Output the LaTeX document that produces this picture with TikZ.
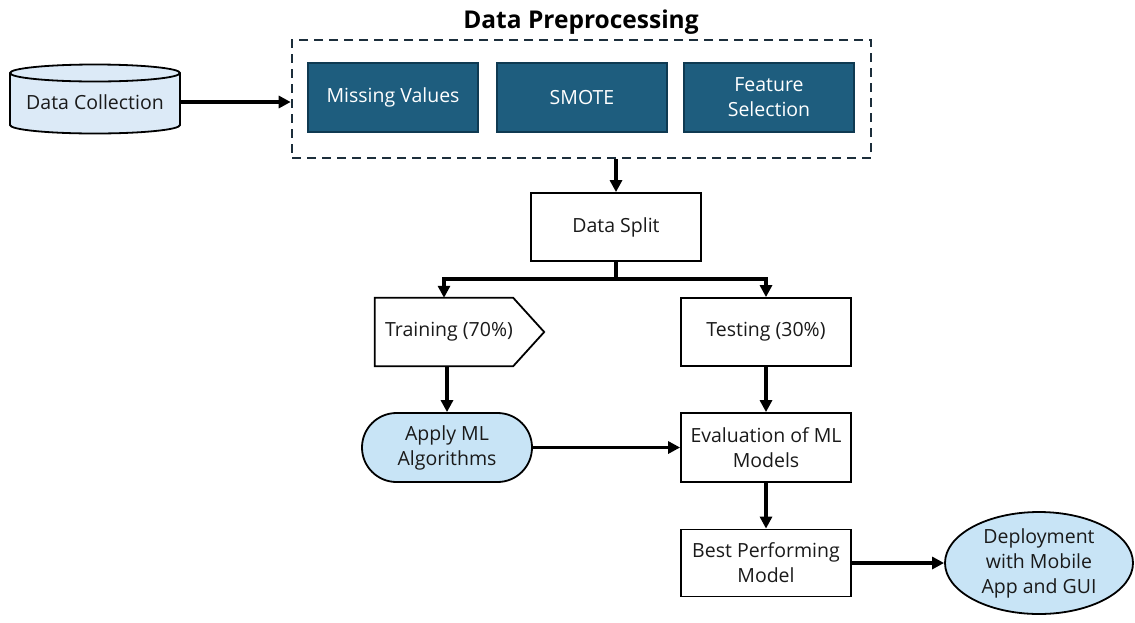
\documentclass[tikz,border=0pt]{standalone}
\usepackage{fontspec}
\setmainfont{Open Sans}
\usetikzlibrary{arrows.meta,shapes.geometric,shapes.misc,calc,backgrounds}

\definecolor{inkc}{HTML}{1A1A1A}
\definecolor{prepfill}{HTML}{1E5D7E}
\definecolor{prepedge}{HTML}{0F3A52}
\definecolor{dashc}{HTML}{1C2E3B}
\definecolor{softblue}{HTML}{C8E4F6}
\definecolor{cylfill}{HTML}{DCEAF7}

\begin{document}
\begin{tikzpicture}[x=1pt,y=-1pt,
  txt/.style={font=\fontsize{19.5}{25}\selectfont, text=inkc, align=center, inner sep=0pt},
  plainbox/.style={txt, draw=black, line width=1.8pt, fill=white,
    minimum width=170pt, minimum height=68pt},
  prepbox/.style={txt, text=white, fill=prepfill, draw=prepedge, line width=1.2pt,
    minimum width=170pt, minimum height=69pt},
  softshape/.style={txt, draw=black, line width=1.8pt, fill=softblue},
  outline/.style={draw=black, line width=1.8pt, line join=miter},
  flow/.style={line width=3.3pt, line join=miter, -{Triangle[length=12pt,width=12pt]}}
]
\useasboundingbox (0,0) rectangle (1135,622);

% data source cylinder
\draw[outline, fill=cylfill] (10,73) -- (10,125)
  arc[start angle=180, end angle=360, x radius=85pt, y radius=8.5pt]
  -- (180,73)
  arc[start angle=0, end angle=180, x radius=85pt, y radius=8.5pt] -- cycle;
\draw[outline] (10,73) arc[start angle=180, end angle=360, x radius=85pt, y radius=8.5pt];
\node[txt, minimum width=170pt, minimum height=70pt] (dc) at (95,102) {Data Collection};

% preprocessing group
\node[font=\fontsize{24.5}{28}\bfseries\selectfont, text=black] (title) at (581,22) {Data Preprocessing};
\node[draw=dashc, line width=2.6pt, dash pattern=on 9pt off 6pt,
  minimum width=579pt, minimum height=118pt] (prep) at (581.5,99) {};
\node[prepbox] (mv) at (393,97.5) {Missing Values};
\node[prepbox] (sm) at (582,97.5) {SMOTE};
\node[prepbox] (fs) at (769,97.5) {Feature\\Selection};

% split
\node[plainbox] (ds) at (616,227) {Data Split};
\coordinate (sp) at (616,279);

% training branch: pentagon outline drawn behind its text
\node[txt, minimum width=138pt, minimum height=68pt] (tr) at (444,332) {\hspace*{10pt}Training (70\%)};
\begin{pgfonlayer}{background}
\draw[outline, fill=white] (tr.north west) -- (tr.north east) -- ($(tr.east)+(31,0)$)
  -- (tr.south east) -- (tr.south west) -- cycle;
\end{pgfonlayer}
\node[softshape, rounded rectangle, minimum width=170pt, minimum height=69pt] (am) at (447,447.5) {Apply ML\\Algorithms};

% testing branch
\node[plainbox] (te) at (766,332) {Testing (30\%)};
\node[plainbox, minimum height=69pt] (ev) at (766,447.5) {Evaluation of ML\\Models};
\node[plainbox, minimum height=67pt] (bp) at (766,563) {Best Performing\\Model};
\node[softshape, ellipse, minimum width=188pt, minimum height=102pt] (dep) at (1039,563) {Deployment\\with Mobile\\App and GUI};

% connectors
\draw[flow] (dc.east) -- (dc.east -| prep.west);
\draw[flow] (ds.north |- prep.south) -- (ds.north);
\draw[flow] (ds.south) -- (sp) -| (tr.north);
\draw[flow] (sp) -| (te.north);
\draw[flow] (am.north |- tr.south) -- (am.north);
\draw[flow] (am.east) -- (ev.west);
\draw[flow] (te.south) -- (ev.north);
\draw[flow] (ev.south) -- (bp.north);
\draw[flow] (bp.east) -- (dep.west);
\end{tikzpicture}
\end{document}
